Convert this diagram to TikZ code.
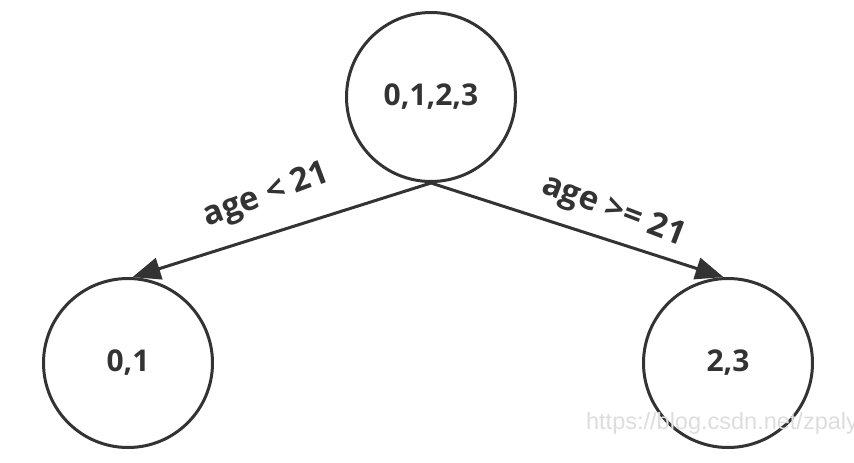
\documentclass[tikz,border=0pt]{standalone}
\usepackage{fontspec}
\setmainfont{Open Sans}
\newfontfamily\markfont{Liberation Sans}
\usetikzlibrary{arrows.meta}
\definecolor{ink}{HTML}{333333}
\definecolor{mark}{HTML}{DDDDDD}

\begin{document}
\begin{tikzpicture}[x=1pt,y=-1pt,
    set/.style={circle,draw=ink,line width=3pt,minimum size=169pt,inner sep=0pt,
                text=ink,font=\fontsize{30}{32}\selectfont\bfseries},
    cond/.style={text=ink,font=\fontsize{33}{35}\selectfont\bfseries,sloped}]

            %\draw [help lines] (0,0) grid (854,463);
            \useasboundingbox (0,0) rectangle (854,463);

            \path   (431,97)  node (root)  [set] {0,1,2,3}
                    (128,363) node (young) [set] {0,1}
                    (728,363) node (old)   [set] {2,3};

            \draw[arrows = -{Triangle[length=28pt,width=22pt]},ink,line width=3pt]
                (node cs: name=root, anchor=south) -- node[cond,pos=0.51,above=16pt,rotate=3] {age < 21} (node cs: name=young, angle=87);
            \draw[arrows = -{Triangle[length=28pt,width=22pt]},ink,line width=3pt]
                (node cs: name=root, anchor=south) -- node[cond,pos=0.59,above=8pt,rotate=-3] {age >= 21} (node cs: name=old, angle=93);

            \path (722,423) node (wm) [text=mark,font=\markfont\fontsize{23.5}{25}\selectfont] {https://blog.csdn.net/zpaly};

\end{tikzpicture}
\end{document}
